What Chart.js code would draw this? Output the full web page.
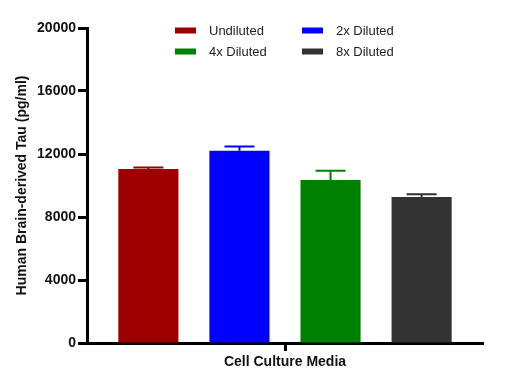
<!DOCTYPE html>
<html>
<head>
<meta charset="utf-8">
<script src="https://cdn.jsdelivr.net/npm/chart.js@4/dist/chart.umd.min.js"></script>
<style>
  html, body { margin: 0; padding: 0; background: #fff; }
  #wrap { width: 527px; height: 389px; }
</style>
</head>
<body>
<div id="wrap"><canvas id="tauChart" width="527" height="389"></canvas></div>
<script>
// values
const categories = ['Cell Culture Media'];
const seriesLabels = ['Undiluted', '2x Diluted', '4x Diluted', '8x Diluted'];
const seriesMeans = [11050, 12200, 10350, 9270];
const seriesErrors = [100, 270, 590, 170];
const seriesColors = ['#9e0000', '#0000ff', '#008000', '#333333'];
const yTicks = [0, 4000, 8000, 12000, 16000, 20000];

const axisFont = { family: '"Liberation Sans", Arial, sans-serif', size: 14, weight: 'bold' };

// upper error bars, drawn from the y scale
const errorBars = {
  id: 'errorBars',
  afterDatasetsDraw(chart) {
    const ctx = chart.ctx;
    const y = chart.scales.y;
    chart.data.datasets.forEach((ds, i) => {
      const bar = chart.getDatasetMeta(i).data[0];
      const top = y.getPixelForValue(ds.data[0] + seriesErrors[i]);
      ctx.save();
      ctx.strokeStyle = seriesColors[i];
      ctx.lineWidth = 2;
      ctx.beginPath();
      ctx.moveTo(bar.x, bar.y);
      ctx.lineTo(bar.x, top);
      ctx.moveTo(bar.x - 15, top);
      ctx.lineTo(bar.x + 15, top);
      ctx.stroke();
      ctx.restore();
    });
  }
};

// two-column legend like the original
const gridLegend = {
  id: 'gridLegend',
  afterDraw(chart) {
    const ctx = chart.ctx;
    ctx.save();
    ctx.font = '13px "Liberation Sans", Arial, sans-serif';
    ctx.textBaseline = 'middle';
    chart.data.datasets.forEach((ds, i) => {
      const col = i % 2, row = Math.floor(i / 2);
      const bx = col ? 302 : 175;
      const cy = row ? 51.5 : 30.5;
      ctx.fillStyle = ds.backgroundColor;
      ctx.fillRect(bx, cy - 3, 21, 6);
      ctx.fillStyle = '#222';
      ctx.fillText(ds.label, bx + 34, cy + 1);
    });
    ctx.restore();
  }
};

const ctx = document.getElementById('tauChart').getContext('2d');
new Chart(ctx, {
  type: 'bar',
  data: {
    labels: categories,
    datasets: seriesLabels.map((label, i) => ({
      label: label,
      data: [seriesMeans[i]],
      backgroundColor: seriesColors[i],
      borderWidth: 0,
      barPercentage: 0.66,
      categoryPercentage: 0.92
    }))
  },
  options: {
    responsive: false,
    animation: false,
    layout: { padding: { top: 28, right: 44, bottom: 0, left: 0 } },
    plugins: {
      legend: { display: false },
      tooltip: { enabled: false }
    },
    scales: {
      x: {
        afterFit: (s) => { s.height = 46; },
        border: { display: true, color: '#000', width: 3 },
        grid: { offset: false, drawOnChartArea: false, tickLength: 8, tickWidth: 3, tickColor: '#000' },
        ticks: { padding: 3, color: '#111', font: axisFont }
      },
      y: {
        min: 0,
        max: 20000,
        afterFit: (s) => { s.width = 87; },
        afterBuildTicks: (s) => { s.ticks = yTicks.map(v => ({ value: v })); },
        border: { display: true, color: '#000', width: 3 },
        grid: { drawOnChartArea: false, tickLength: 9, tickWidth: 3, tickColor: '#000' },
        ticks: {
          padding: 2,
          color: '#111',
          font: axisFont,
          callback: (v) => String(v)
        },
        title: {
          display: true,
          text: 'Human Brain-derived Tau (pg/ml)',
          color: '#111',
          padding: { top: 14, bottom: 0 },
          font: axisFont
        }
      }
    }
  },
  plugins: [errorBars, gridLegend]
});
</script>
</body>
</html>
